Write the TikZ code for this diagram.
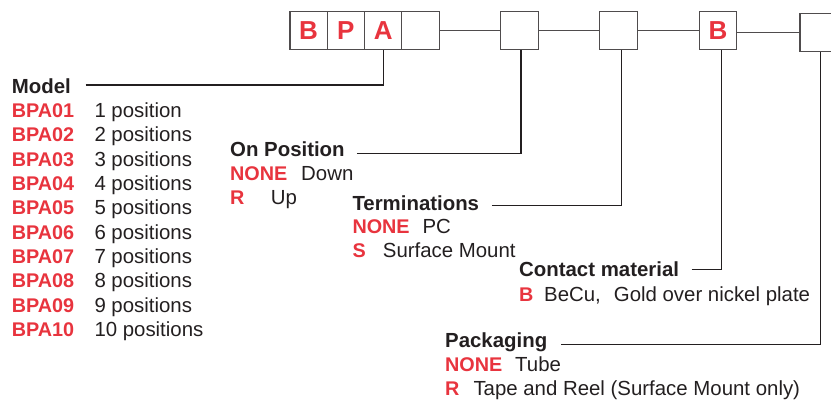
\documentclass[tikz,border=0pt]{standalone}
\usepackage{fontspec}
\setmainfont{Liberation Sans}
\definecolor{pnred}{RGB}{232,52,62}
\definecolor{ink}{RGB}{35,31,32}
\begin{document}
\begin{tikzpicture}[x=1pt,y=-1pt,
  txt/.style={anchor=base west,inner sep=0pt,font=\fontsize{20.4}{24}\selectfont,text=ink},
  head/.style={txt,font=\fontsize{20.4}{24}\selectfont\bfseries},
  code/.style={txt,font=\fontsize{19.8}{24}\selectfont\bfseries,text=pnred},
  cell/.style={draw=ink!80,line width=1.1pt,minimum width=37.3pt,minimum height=38.6pt,inner sep=0pt,font=\fontsize{26}{26}\selectfont\bfseries,text=pnred},
  link/.style={draw=ink!80,line width=1.1pt},
  lead/.style={draw=ink,line width=1.1pt}]
\useasboundingbox (0,0) rectangle (831,400);

% part number boxes
\node[cell] (b1) at (308.6,30.5) {B};
\node[cell] (b2) at (345.9,30.5) {P};
\node[cell] (b3) at (383.2,30.5) {A};
\node[cell] (b4) at (420.5,30.5) {};
\node[cell] (b5) at (519.5,30.5) {};
\node[cell] (b6) at (618.5,30.5) {};
\node[cell] (b7) at (718.0,30.5) {B};
\node[cell] (b8) at (818.6,32.5) {};
\draw[link] (b4.east) -- (b5.west);
\draw[link] (b5.east) -- (b6.west);
\draw[link] (b6.east) -- (b7.west);
\draw[link] (b8.west -| b7.east) -- (b8.west);

% Model
\node[head] (model) at (11.7,93.3) {Model};
\foreach \c/\t [count=\n] in {01/1 position,02/2 positions,03/3 positions,04/4 positions,05/5 positions,06/6 positions,07/7 positions,08/8 positions,09/9 positions,10/10 positions}{
  \pgfmathsetmacro{\yy}{117.3+24.38*(\n-1)}
  \node[code] (c\n) at (11.7,\yy) {BPA\c};
  \node[txt] (d\n) at (94.3,\yy) {\t};
}
\draw[lead] ([shift={(14.5,-8.3)}]model.base east) -| (b3.south);

% On Position
\node[head] (onpos) at (230,156.7) {On Position};
\node[code] (on1) at (230,180) {NONE};
\node[txt] (ond1) at (301,180) {Down};
\node[code] (on2) at (230,204.4) {R};
\node[txt] (ond2) at (270.7,204.4) {Up};
\draw[lead] ([shift={(12,-3.4)}]onpos.base east) -| ([xshift=1.5pt]b5.south);

% Terminations
\node[head] (term) at (352.3,210) {Terminations};
\node[code] (t1) at (352.3,233.3) {NONE};
\node[txt] (td1) at (422.3,233.3) {PC};
\node[code] (t2) at (352.3,257.7) {S};
\node[txt] (td2) at (382.7,257.7) {Surface Mount};
\draw[lead] ([shift={(12.5,-4.3)}]term.base east) -| ([xshift=3pt]b6.south);

% Contact material
\node[head] (cont) at (519,276.7) {Contact material};
\node[code] (cm1) at (519,301) {B};
\node[txt] (cmd1) at (544,301) {BeCu,\hspace{13pt}Gold over nickel plate};
\draw[lead] ([shift={(12.5,-7.4)}]cont.base east) -| ([xshift=3.5pt]b7.south);

% Packaging
\node[head] (pack) at (445,347.3) {Packaging};
\node[code] (p1) at (445,371.7) {NONE};
\node[txt] (pd1) at (515,371.7) {Tube};
\node[code] (p2) at (445,395) {R};
\node[txt] (pd2) at (473.3,395) {Tape and Reel (Surface Mount only)};
\draw[lead] ([shift={(14,-3)}]pack.base east) -| ([xshift=1.5pt]b8.south);
\end{tikzpicture}
\end{document}
